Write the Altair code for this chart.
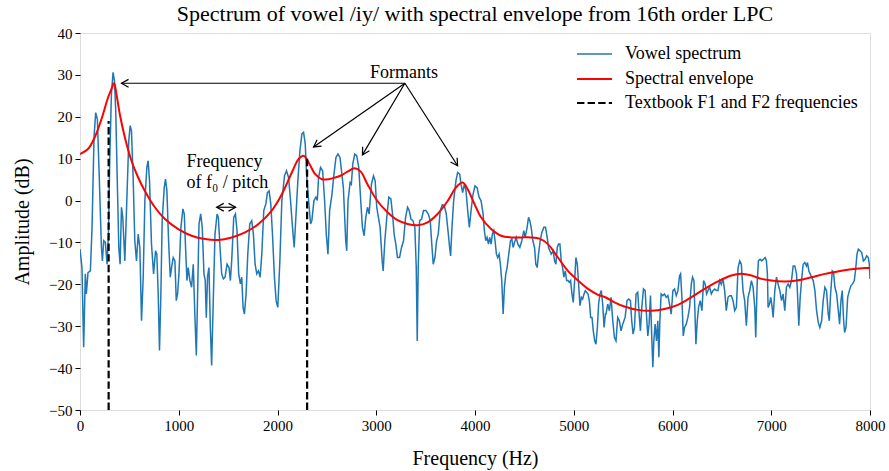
import math
import altair as alt
import pandas as pd

# ---------------- data ----------------
spec_freq = [0, 20, 37, 54, 64, 81, 105, 122, 142, 159, 176, 193, 217, 227, 240, 257, 274, 288, 301, 318,
             335, 349, 362, 379, 393, 406, 420, 433, 454, 474, 494, 508, 521, 538, 555, 572, 589, 606, 623, 640,
             657, 677, 690, 704, 724, 745, 765, 778, 792, 805, 819, 832, 853, 866, 880, 897, 914, 927, 944, 961,
             975, 988, 1002, 1022, 1042, 1056, 1069, 1083, 1096, 1113, 1130, 1147, 1164, 1178, 1191, 1205, 1222,
             1238, 1255, 1268, 1279, 1292, 1306, 1320, 1333, 1347, 1367, 1388, 1401, 1418, 1435, 1452, 1469, 1489,
             1509, 1523, 1536, 1557, 1574, 1590, 1607, 1624, 1638, 1651, 1665, 1682, 1699, 1719, 1739, 1756, 1773,
             1790, 1807, 1824, 1841, 1861, 1882, 1898, 1915, 1932, 1949, 1969, 1986, 2003, 2024, 2044, 2071, 2091,
             2112, 2132, 2152, 2169, 2186, 2206, 2227, 2247, 2264, 2281, 2294, 2315, 2335, 2348, 2369, 2389, 2403,
             2416, 2436, 2457, 2477, 2494, 2511, 2528, 2552, 2572, 2592, 2612, 2633,
             2667, 2691, 2701, 2714, 2735, 2748, 2762, 2782, 2802, 2823, 2843, 2860, 2877, 2894, 2911, 2928, 2951,
             2972, 2989, 3005, 3022, 3039, 3060, 3070, 3087, 3107, 3127, 3148, 3165, 3181, 3198, 3215, 3236, 3256,
             3276, 3297, 3317, 3334, 3351, 3371, 3391, 3405, 3415, 3425, 3439, 3459, 3479, 3503, 3527, 3547, 3560,
             3577, 3594, 3611, 3628, 3648, 3669, 3689, 3709, 3730, 3743, 3753, 3767, 3784, 3807, 3824, 3845, 3858,
             3875, 3892, 3909, 3926, 3943, 3960, 3980, 4000, 4021, 4041, 4061, 4082, 4095, 4109, 4122, 4136, 4149,
             4163, 4176, 4190, 4203, 4217, 4230, 4244, 4257, 4271, 4285, 4298, 4312, 4325, 4346, 4359, 4373, 4386,
             4400, 4417, 4434, 4454, 4474, 4494, 4508, 4528, 4542, 4555, 4569, 4586, 4603, 4616, 4630, 4643, 4660,
             4677, 4697, 4714, 4731, 4745, 4758, 4772, 4792, 4806, 4819, 4833, 4846, 4860, 4873, 4887, 4900, 4914,
             4928, 4941, 4955, 4968, 4982, 4995, 5009, 5022, 5036, 5049, 5063, 5077, 5090, 5104, 5117, 5131, 5144,
             5158, 5171, 5185, 5198, 5212, 5225, 5239, 5252, 5266, 5279, 5293, 5307, 5320,
             5327, 5344, 5361, 5378, 5395, 5412, 5428, 5445, 5462, 5479, 5496, 5520, 5540, 5557, 5574, 5587, 5601,
             5615, 5631, 5648, 5662, 5675, 5689, 5706, 5723, 5736, 5750, 5763, 5777, 5790, 5801, 5811, 5824, 5838,
             5851, 5862, 5872, 5885, 5902, 5919, 5936, 5953, 5970, 5987, 6004, 6021, 6038, 6055, 6071, 6082, 6095,
             6109, 6122, 6139, 6156, 6173, 6190, 6203, 6217, 6230, 6237, 6251, 6264, 6281, 6298, 6315, 6332, 6345,
             6359, 6376, 6393, 6410, 6427, 6444, 6461, 6477, 6494, 6511, 6528, 6545, 6562, 6579, 6596, 6613, 6630,
             6647, 6664, 6681, 6697, 6714, 6731, 6748, 6765, 6782, 6799, 6816, 6833, 6843, 6857, 6870, 6887, 6904,
             6921, 6938, 6951, 6961, 6968, 6982, 6995, 7009, 7019, 7036, 7053, 7070, 7087, 7104, 7120, 7137, 7154,
             7171, 7188, 7205, 7222, 7239, 7256, 7266, 7279, 7293, 7307, 7323, 7340, 7357, 7367, 7381, 7394, 7408,
             7425, 7442, 7459, 7476, 7492, 7510, 7526, 7543, 7560, 7577, 7588, 7601, 7618, 7631, 7645, 7662, 7679,
             7692, 7706, 7719, 7733, 7743, 7757, 7774, 7791, 7807, 7824, 7841, 7855, 7868, 7882, 7899, 7916, 7933,
             7950, 7966, 7983, 7993, 8000]
spec_db = [-11.6, -16, -35, -17.5, -22.3, -17.2, -16.8, -6.4, 15.1, 21.0, 19.4, 7.1, -11.2, -14.4, -9.6, -10, -15.2,
           -8, 9.5, 25.4, 30.6, 28.6, 21.4, 3.1, -11.2, -15.2, -1.6, -4, -14.4, 0, 14.3, 17.9, 16.7, 5.5, -9.6,
           -14.4, -8, -11.2, -28.7, -18.3, 0, 7.9, 9.5, 4.7, -10.4, -17.5, -12, -12.8, -22.3, -35.8, -22.3, -4.8,
           3.1, 5.1, 2.3, -9.6, -18.3, -16, -13.6, -14.4, -23.9, -22.3, -17.5, -6.4, -2, -3.2, -11.2, -19.1, -16,
           -19.1, -20.7, -15.2, -27.9, -37, -22.3, -5.6, -3.2, -6.4, -17.5, -19, -28, -18, -16, -30.3, -39.4,
           -26.3, -8, -3.2, -4, -11.2, -17.5, -18.7, -18.3, -15.2, -16, -19.1, -14.4, -4, -3.2, -7.2, -17.5, -19.9,
           -18.3, -25.5, -27.1, -22.3, -12.8, -5.6, -4.8, -8, -15.2, -17.5, -16.8, -18.3, -12.8, -2.4, -0.8, 1.9,
           2.3, -0.8, -8, -18.3, -23.9, -25.5, -14.4, 0, 5.9, 7.1, 5.5, 0, -6.4, -11.2, -4, 4.7, 11.9, 15.9, 16.3,
           13.5, 6.3, 0, -5.6, -4.8, 0, 0.8, 0, 5.5, 7.9, 7.1, 0, -8, -12.8, -2.4, 1.6, 6.3, 10.3, 11.1, 10.3,
           3.1, -9.6, -12, -0.1, 4.3, 3.9, 8.7, 11.1, 10.7, 7.9, -0.1, -6.4, -8.4, -4, -1.6, -3.2, 3.9,
           5.9, 4.7, -1.6, -4, -6.4, -14.4, -16.8, -9.6, -4, 0.8, 0.4, -3.2, -8, -10.4, -13.6, -13.6, -11.2,
           -9.6, -4, -1.6, -2.4, -4.4, -4.8, -6.4, -16, -33.5, -16, -4.8, -4.4, -2.4, -2.4, -3.2, -4.8, -9.6,
           -15.2, -13.6, -9.6, -8, -2.4, -1, -1.2, -3.2, -8, -11.2, -13.2, -6.4, 0, 4.7, 6.7, 6.3, 3.9,
           1.9, 3.9, 2.3, -2.4, -6.4, -2.4, 1.5, 3.5, 3.1, 0.8, 0, -3.2, -7.2, -9.6, -8.8, -10.4, -8.8,
           -10.4, -8, -7.2, -9.6, -12.8, -13.6, -12.8, -15.2, -19.1, -27.1, -20.7, -17.5, -16, -12, -9.6, -9.2, -11.2,
           -10, -8.8, -10.4, -11.2, -9.6, -7.2, -8.8, -6.4, -4, -4.8, -6.4, -9.6, -11.2, -15.2, -16, -12.8, -9.6,
           -7.6, -6.4, -6.4, -8.8, -11.2, -12, -12.8, -12, -14.4, -15.2, -11.2, -10.4, -10.4, -14.4, -16, -18.3, -16.8,
           -19.1, -19.1, -19.5, -19.1, -22.3, -24.3, -19.1, -13.6, -15.2, -19.9, -25.1, -23.1, -23.5, -22.3, -21.5, -21.9, -22.3,
           -23.9, -27.9, -27.9, -31.1, -33.5, -34.3, -30.3, -24.7, -22.3, -21.5, -24.7, -30.3, -27.1,
           -27.1, -24.7, -26.3, -23.1, -28.7, -32.7, -33.5, -27.9, -28.7, -31.1, -29.5, -27.9, -23.9, -23.5, -23.9, -28.7, -31.9,
           -30.3, -22.3, -21.9, -27.1, -31.1, -25.5, -21.1, -21.5, -27.1, -32.3, -29.5, -22.7, -32.7, -39.8, -33.5, -29.5, -33.5,
           -28.7, -37.4, -28.7, -22.3, -22.7, -22.3, -23.1, -22.7, -24.7, -27.1, -21.5, -21.1, -22.7, -21.5, -18, -17.5, -23.1,
           -32.3, -30.3, -29.5, -27.9, -25.5, -20, -18.3, -19.1, -28.7, -34.3, -28.7, -25.5, -23.9, -26.3, -19.1, -20, -22.3,
           -21.5, -20.7, -22.3, -21.5, -21.1, -21.5, -21.5, -19.1, -20, -18.7, -21.5, -26.3, -23.1, -22.7, -22.7, -23.9, -26.3,
           -25.5, -16, -14.4, -15.2, -21.5, -23.9, -29.9, -23.1, -21.5, -19.1, -20.7, -25.5, -32.7, -20, -14.4, -14, -14.4,
           -14, -13.6, -14.4, -17.5, -25.5, -24.7, -23.1, -25.5, -27.9, -21.5, -18.3, -20, -21.5, -23.9, -22.3, -26.3, -20.7,
           -19.9, -20.7, -19.1, -15.6, -15.6, -17.5, -22.3, -29.9, -23.1, -19.1, -15.2, -14.8, -15.6, -14.8, -16.8, -17.5, -18.3,
           -19.1, -21.5, -26.3, -29.1, -30.3, -28.7, -23.9, -20.7, -21.5, -27.1, -28.7, -22.3, -16.8, -17.2, -20.7, -22.3, -26.3,
           -29.5, -23.9, -21.5, -28.7, -31.5, -30.3, -23.1, -21.5, -20.3, -19.9, -19.1, -16.4, -12.8, -11.6, -12, -12.4, -14.4,
           -14, -13.2, -13.6, -15.2, -18.7]

env_freq = [0, 81, 149, 217, 284, 318, 345, 369, 403, 454, 521, 589, 657, 758, 860, 995, 1130, 1266, 1401, 1536,
            1672, 1807, 1942, 2044, 2145, 2213, 2264, 2315, 2382, 2450, 2518, 2585, 2653, 2708, 2782, 2843, 2911,
            3012, 3114, 3215, 3317, 3418, 3520, 3621, 3723, 3807, 3875, 3926, 3994, 4061, 4163, 4264, 4366, 4467,
            4569, 4653, 4738, 4840, 4941, 5043, 5144, 5246, 5330, 5412, 5513, 5648, 5784, 5919, 6055, 6190, 6325,
            6461, 6596, 6697, 6799, 6900, 7002, 7137, 7273, 7408, 7543, 7679, 7814, 7950, 8000]
env_db = [11.1, 12.3, 15.1, 19.4, 24.6, 26.6, 28.0, 25.4, 20.6, 15.1, 9.5, 5.5, 2.3, -1.6, -4.4, -6.8, -8.4, -9.2,
          -9.4, -8.8, -7.6, -5.6, -2.4, 1.5, 6.7, 9.9, 10.7, 9.1, 6.3, 5.1, 5.1, 5.5, 6.1, 6.9, 7.7, 6.9, 3.9, -0.1,
          -2.8, -4.7, -5.6, -5.9, -5.2, -3.2, -0.1, 3.1, 4.3, 2.7, -0.8, -4, -6.8, -8.4, -8.8, -8.8, -8.8, -9.1,
          -10.4, -13.6, -16.8, -19.1, -21.1, -22.5, -23.2, -24.3, -25.3, -26.1, -26.3, -25.9, -24.9, -23.1, -21.1,
          -19.3, -17.9, -17.5, -17.9, -18.7, -19.1, -19.3, -19.0, -18.3, -17.5, -16.9, -16.4, -16.1, -16.1]

textbook_freq = [290, 2300]
textbook_top = [19, 10.3]

legend_labels = ["Vowel spectrum", "Spectral envelope", "Textbook F1 and F2 frequencies"]

title_text = "Spectrum of vowel /iy/ with spectral envelope from 16th order LPC"
x_title = "Frequency (Hz)"
y_title = "Amplitude (dB)"

formant_label = "Formants"
formant_origin_hz, formant_origin_db = 3290, 28.0
formant_tip_hz = [420, 2365, 2860, 3824]
formant_tip_db = [28.0, 12.8, 10.9, 8.3]

pitch_lines = ["Frequency", "of f\u2080 / pitch"]
pitch_text_hz = 1079
pitch_text_db = [7.9, 3.1]
pitch_arrow_hz = [1384, 1576]
pitch_arrow_db = -1.6

x_ticks = [0, 1000, 2000, 3000, 4000, 5000, 6000, 7000, 8000]
y_ticks = [-50, -40, -30, -20, -10, 0, 10, 20, 30, 40]

# ---------------- layout ----------------
W, H = 790, 377
XMIN, XMAX, YMIN, YMAX = 0, 8000, -50, 40
FONT = "Liberation Serif"

xs = alt.Scale(domain=[XMIN, XMAX], nice=False, zero=False)
ys = alt.Scale(domain=[YMIN, YMAX], nice=False, zero=False)
x_axis = alt.Axis(values=x_ticks, format="d", title=x_title, grid=False, domain=False, tickSize=5,
                  tickColor="black", labelFont=FONT, labelFontSize=15, labelColor="black", labelPadding=3,
                  titleFont=FONT, titleFontSize=20, titleFontWeight="normal", titleColor="black", titlePadding=15,
                  labelFlush=False)
y_axis = alt.Axis(values=y_ticks, format="d", title=y_title, grid=False, domain=False, tickSize=5,
                  tickColor="black", labelFont=FONT, labelFontSize=15, labelColor="black", labelPadding=3,
                  titleFont=FONT, titleFontSize=20, titleFontWeight="normal", titleColor="black", titlePadding=16,
                  labelFlush=False)


def X(field="f"):
    return alt.X(f"{field}:Q", scale=xs, axis=x_axis)


def Y(field="a"):
    return alt.Y(f"{field}:Q", scale=ys, axis=y_axis)


def px_dir(f0, a0, f1, a1):
    dx = (f1 - f0) * W / (XMAX - XMIN)
    dy = -(a1 - a0) * H / (YMAX - YMIN)
    return math.degrees(math.atan2(dx, -dy)) % 360


spec_df = pd.DataFrame({"f": spec_freq, "a": spec_db})
env_df = pd.DataFrame({"f": env_freq, "a": env_db})
tb_df = pd.DataFrame({"f": textbook_freq, "a": [YMIN] * len(textbook_freq), "a2": textbook_top})

arr_df = pd.DataFrame({
    "f": [formant_origin_hz] * len(formant_tip_hz),
    "a": [formant_origin_db] * len(formant_tip_hz),
    "f2": formant_tip_hz,
    "a2": formant_tip_db,
})
head_df = pd.DataFrame({
    "f": formant_tip_hz + pitch_arrow_hz,
    "a": formant_tip_db + [pitch_arrow_db, pitch_arrow_db],
    "ang": [px_dir(formant_origin_hz, formant_origin_db, fh, fd) for fh, fd in zip(formant_tip_hz, formant_tip_db)]
           + [px_dir(pitch_arrow_hz[1], pitch_arrow_db, pitch_arrow_hz[0], pitch_arrow_db),
              px_dir(pitch_arrow_hz[0], pitch_arrow_db, pitch_arrow_hz[1], pitch_arrow_db)],
})
pitch_df = pd.DataFrame({"f": [pitch_arrow_hz[0]], "f2": [pitch_arrow_hz[1]], "a": [pitch_arrow_db]})
formant_text_df = pd.DataFrame({"f": [formant_origin_hz - 10], "a": [formant_origin_db + 1.3], "t": [formant_label]})
pitch_text_df = pd.DataFrame({"f": [pitch_text_hz] * 2, "a": pitch_text_db, "t": pitch_lines})

BLUE = "#1f77b4"
RED = "#ff0000"

spectrum = alt.Chart(spec_df).mark_line(color=BLUE, strokeWidth=1.5, clip=True).encode(x=X(), y=Y())
envelope = alt.Chart(env_df).mark_line(color=RED, strokeWidth=2, interpolate="catmull-rom", clip=True).encode(
    x=X(), y=Y())
textbook = alt.Chart(tb_df).mark_rule(color="black", strokeWidth=2.2, strokeDash=[7.4, 3.2]).encode(
    x=X(), y=Y(), y2="a2:Q")

arrows = alt.Chart(arr_df).mark_rule(color="black", strokeWidth=1.2).encode(
    x=X(), y=Y(), x2="f2:Q", y2="a2:Q")
pitch_rule = alt.Chart(pitch_df).mark_rule(color="black", strokeWidth=1.2).encode(x=X(), x2="f2:Q", y=Y())
CHEVRON = "M-0.55,1L0,0L0.55,1"
heads = alt.Chart(head_df).mark_point(shape=CHEVRON, filled=False, color="black", strokeWidth=1.2,
                                      size=200, opacity=1).encode(
    x=X(), y=Y(), angle=alt.Angle("ang:Q", scale=None))

formant_text = alt.Chart(formant_text_df).mark_text(font=FONT, fontSize=18, align="center",
                                                    baseline="alphabetic", color="black").encode(
    x=X(), y=Y(), text="t:N")
pitch_text = alt.Chart(pitch_text_df).mark_text(font=FONT, fontSize=18, align="left",
                                                baseline="alphabetic", color="black").encode(
    x=X(), y=Y(), text="t:N")

# legend (manual, top right inside the plot)
leg_df = pd.DataFrame({"t": legend_labels})
LX0, LX1, LTX = 497, 532, 545
LY = [21, 46, 70]
leg_layers = []
leg_styles = [dict(color=BLUE, strokeWidth=1.5), dict(color=RED, strokeWidth=2),
              dict(color="black", strokeWidth=2.2, strokeDash=[7.4, 3.2])]
for i, st in enumerate(leg_styles):
    leg_layers.append(alt.Chart(leg_df.iloc[[i]]).mark_rule(**st).encode(
        x=alt.value(LX0), x2=alt.value(LX1), y=alt.value(LY[i])))
    leg_layers.append(alt.Chart(leg_df.iloc[[i]]).mark_text(font=FONT, fontSize=18, align="left",
                                                           baseline="middle", color="black").encode(
        x=alt.value(LTX), y=alt.value(LY[i]), text="t:N"))

chart = alt.layer(spectrum, envelope, textbook, arrows, pitch_rule, heads, formant_text, pitch_text,
                  *leg_layers).properties(
    width=W, height=H,
    title=alt.TitleParams(title_text, font=FONT, fontSize=22, fontWeight="normal", color="black",
                          anchor="middle", offset=0),
    autosize=alt.AutoSizeParams(type="none"),
    padding={"left": 80, "top": 33, "right": 19, "bottom": 61},
).configure_view(stroke="#222", strokeWidth=1).configure(background="white")

chart.save("out.html", embed_options={"renderer": "svg", "actions": False})
